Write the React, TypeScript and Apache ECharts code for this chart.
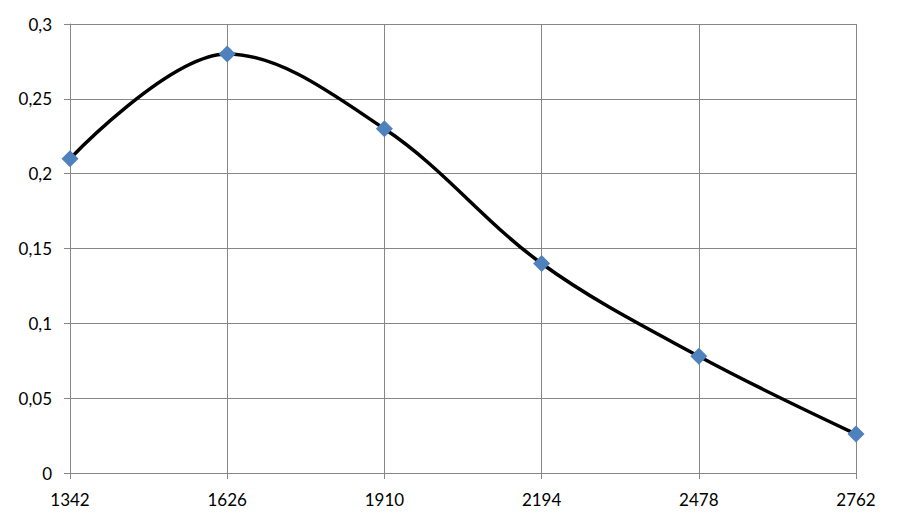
import React, { useEffect, useRef } from "react";
import * as echarts from "echarts";

const categories = ["1342", "1626", "1910", "2194", "2478", "2762"];
const values = [0.21, 0.28, 0.23, 0.14, 0.078, 0.026];
const yMin = 0;
const yMax = 0.3;
const yStep = 0.05;

export default function App() {
  const ref = useRef<HTMLDivElement>(null);
  useEffect(() => {
    if (!ref.current) return;
    const chart = echarts.init(ref.current, null, { renderer: "svg" });
    const grey = "#868686";
    const font = "Lato, 'Open Sans', sans-serif";
    chart.setOption({
      animation: false,
      backgroundColor: "#ffffff",
      grid: { left: 70, right: 46, top: 24, bottom: 54, containLabel: false },
      xAxis: {
        type: "category",
        data: categories,
        boundaryGap: false,
        axisLine: { show: true, lineStyle: { color: grey, width: 1 } },
        axisTick: { show: true, length: 6, lineStyle: { color: grey } },
        splitLine: { show: true, lineStyle: { color: grey, width: 1 } },
        axisLabel: { color: "#000", fontSize: 17, fontFamily: font, margin: 18 },
      },
      yAxis: {
        type: "value",
        min: yMin,
        max: yMax,
        interval: yStep,
        axisLine: { show: true, lineStyle: { color: grey, width: 1 } },
        axisTick: { show: true, length: 6, lineStyle: { color: grey } },
        splitLine: { show: true, lineStyle: { color: grey, width: 1 } },
        axisLabel: {
          color: "#000",
          fontSize: 17,
          fontFamily: font,
          margin: 18,
          formatter: (v: number) => String(Math.round(v * 1000) / 1000).replace(".", ","),
        },
      },
      series: [
        {
          type: "line",
          data: values,
          smooth: 0.35,
          symbol: "diamond",
          symbolSize: 17,
          lineStyle: { color: "#000", width: 3.5 },
          itemStyle: { color: "#4F81BD" },
          z: 3,
        },
      ],
    });
    return () => chart.dispose();
  }, []);
  return (
    <div
      ref={ref}
      style={{ position: "fixed", left: 0, top: 0, width: 902, height: 527 }}
    />
  );
}
